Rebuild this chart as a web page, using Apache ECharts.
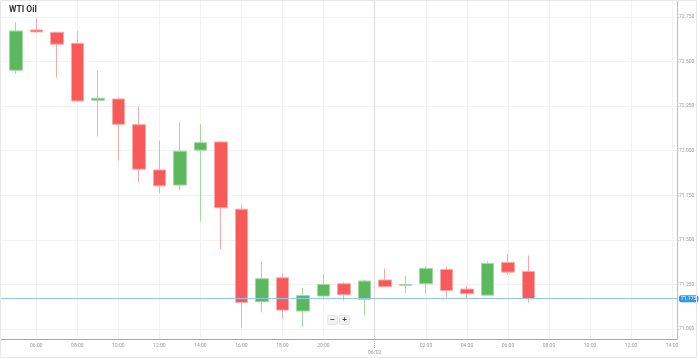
<!DOCTYPE html>
<html>
<head>
<meta charset="utf-8">
<script src="https://cdn.jsdelivr.net/npm/echarts@6/dist/echarts.min.js"></script>
<style>
html,body{margin:0;padding:0;background:#fff;}
#c{width:699px;height:358px;}
</style>
</head>
<body>
<div id="c"></div>
<script>
// hourly slots on the axis (23:00 market break skipped)
const timeLabels = ['05:00','06:00','07:00','08:00','09:00','10:00','11:00','12:00','13:00','14:00','15:00','16:00','17:00','18:00','19:00','20:00','21:00','22:00',
  '00:00','01:00','02:00','03:00','04:00','05:00','06:00','07:00','08:00','09:00','10:00','11:00','12:00','13:00','14:00'];
const opens  = [72.451,72.677,72.664,72.602,72.283,72.290,72.146,71.892,71.807,72.003,72.049,71.672,71.153,71.287,71.101,71.185,71.254,71.166,71.275,71.245,71.254,71.334,71.224,71.190,71.373,71.323];
const closes = [72.671,72.666,72.597,72.279,72.294,72.148,71.896,71.803,71.997,72.045,71.680,71.149,71.282,71.106,71.188,71.250,71.192,71.269,71.237,71.249,71.340,71.216,71.198,71.368,71.319,71.170];
const lows   = [72.430,72.660,72.410,72.273,72.079,71.945,71.821,71.762,71.780,71.603,71.448,71.007,71.093,71.059,71.011,71.170,71.160,71.075,71.237,71.202,71.198,71.179,71.168,71.190,71.303,71.149];
const highs  = [72.720,72.742,72.664,72.671,72.447,72.300,72.247,72.057,72.161,72.150,72.055,71.698,71.379,71.310,71.230,71.310,71.262,71.278,71.340,71.299,71.351,71.349,71.243,71.381,71.422,71.412];
const priceLevel = 71.175;
const yTickValues = [71.0,71.25,71.5,71.75,72.0,72.25,72.5,72.75];
const xLabelSlots = [1,3,5,7,9,11,13,15,20,22,24,26,28,30,32];
const dayBreakSlot = 17.5;
const dayBreakLabel = '06/02';
const titleText = 'WTI Oil';

const xMin = -0.72, xMax = 32.24;
const up = '#5cb85c', upLight = '#a3d8a3';
const down = '#f85a5a', downLight = '#f9a9a9';
const lblColor = '#9a9a9a';
const font = 'Roboto, sans-serif';

const chart = echarts.init(document.getElementById('c'), null, {renderer:'canvas'});
chart.setOption({
  animation: false,
  backgroundColor: '#fff',
  title: {
    text: titleText, left: 4, top: 0,
    textStyle: {fontSize: 8.5, fontWeight: 'bold', color: '#333', fontFamily: font}
  },
  grid: {left: 1, right: 22, top: 0, bottom: 19},
  xAxis: [
    {
      type: 'value', min: xMin, max: xMax, position: 'bottom',
      axisLine: {show: true, onZero: false, lineStyle: {color: '#a8a8a8'}},
      axisTick: {show: false, customValues: xLabelSlots},
      axisLabel: {customValues: xLabelSlots, formatter: v => timeLabels[Math.round(v)],
        fontSize: 5, color: lblColor, margin: 4, fontFamily: font},
      splitLine: {show: true, lineStyle: {color: '#f2f2f2'}}
    },
    {
      type: 'value', min: xMin, max: xMax, position: 'bottom',
      axisLine: {show: false, onZero: false},
      axisTick: {show: true, customValues: [dayBreakSlot], length: 9, lineStyle: {type: 'dotted', color: '#aaa'}},
      axisLabel: {customValues: [dayBreakSlot], formatter: () => dayBreakLabel,
        fontSize: 5, color: lblColor, margin: 11, fontFamily: font},
      splitLine: {show: true, lineStyle: {color: '#dadada'}}
    }
  ],
  yAxis: {
    type: 'value', position: 'right', min: 70.944, max: 72.845, scale: true,
    axisLine: {show: true, onZero: false, lineStyle: {color: '#bdbdbd'}},
    axisTick: {show: true, length: 2, customValues: yTickValues, lineStyle: {color: '#ccc'}},
    axisLabel: {customValues: yTickValues, formatter: v => v.toFixed(3),
      fontSize: 5, color: lblColor, margin: 2, fontFamily: font},
    splitLine: {show: true, lineStyle: {color: '#f2f2f2'}}
  },
  series: [{
    type: 'candlestick',
    xAxisIndex: 0,
    data: opens.map((o, i) => [i, o, closes[i], lows[i], highs[i]]),
    encode: {x: 0, y: [1, 2, 3, 4]},
    barWidth: 13,
    itemStyle: {color: up, color0: down, borderColor: upLight, borderColor0: downLight, borderWidth: 1},
    markLine: {
      silent: true, symbol: 'none', animation: false,
      data: [{yAxis: priceLevel}],
      lineStyle: {color: '#92c8f0', type: 'solid', width: 1},
      label: {position: 'end', formatter: priceLevel.toFixed(3), backgroundColor: '#2f98e6',
        color: '#fff', fontSize: 5, padding: [1, 2], borderRadius: 2, distance: 2, fontFamily: font}
    }
  }],
  graphic: [
    {type: 'rect', silent: true, z: 100, shape: {x: 0.5, y: 0.5, width: 696, height: 357},
      style: {fill: 'none', stroke: '#e8e8e8'}},
    {type: 'group', left: 327, top: 315, z: 100, children: [
      {type: 'rect', shape: {x: 0, y: 0, width: 10, height: 9, r: 2}, style: {fill: '#f2f2f2', stroke: '#e2e2e2'}},
      {type: 'text', x: 5, y: 4.5, style: {text: '−', fill: '#444', fontSize: 8, fontWeight: 'bold', align: 'center', verticalAlign: 'middle'}},
      {type: 'rect', shape: {x: 12, y: 0, width: 10, height: 9, r: 2}, style: {fill: '#f2f2f2', stroke: '#e2e2e2'}},
      {type: 'text', x: 17, y: 4.5, style: {text: '+', fill: '#444', fontSize: 8, fontWeight: 'bold', align: 'center', verticalAlign: 'middle'}}
    ]}
  ]
});
</script>
</body>
</html>
